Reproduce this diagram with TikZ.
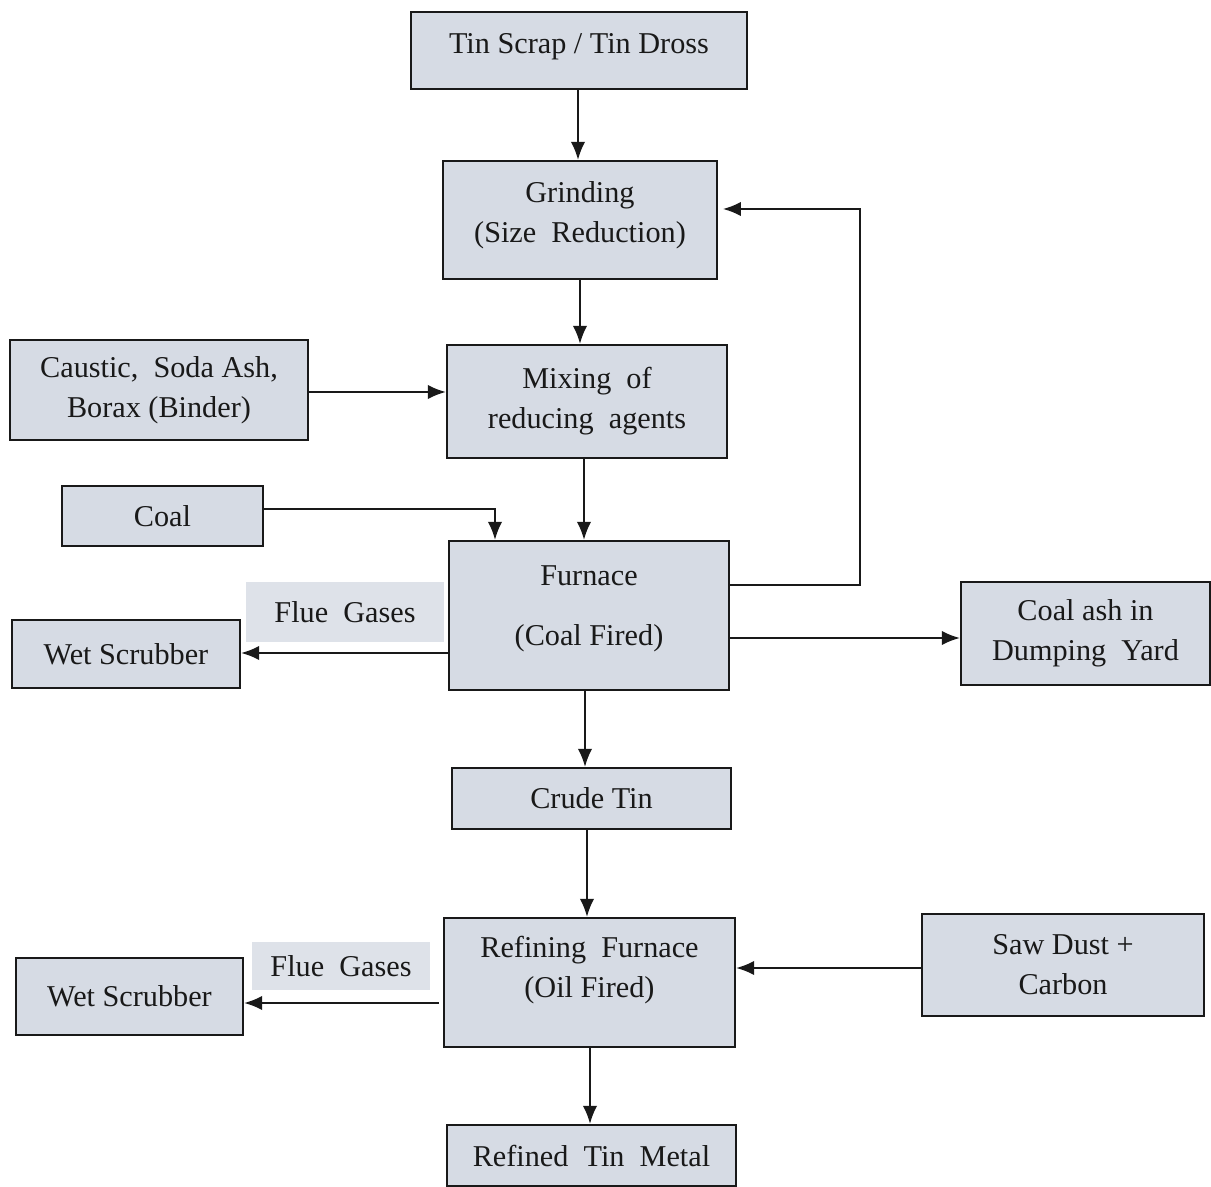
\documentclass[tikz,border=0pt]{standalone}
\usepackage{fontspec}
\setmainfont{Liberation Serif}
\usetikzlibrary{arrows.meta}
\definecolor{boxfill}{RGB}{214,219,228}
\definecolor{lblfill}{RGB}{222,226,233}
\definecolor{ink}{RGB}{25,25,25}
\tikzset{
  box/.style={draw=ink, fill=boxfill, line width=1.5pt, align=center, inner sep=0pt,
    font=\fontsize{21.5}{28.5}\selectfont, text=ink},
  lbl/.style={fill=lblfill, align=center, inner sep=0pt, font=\fontsize{21.5}{28.5}\selectfont, text=ink},
  arr/.style={draw=ink, line width=1.5pt, -{Latex[length=0.45cm,width=0.36cm]}}
}
\begin{document}
\begin{tikzpicture}[x=0.025cm,y=-0.025cm]
\useasboundingbox (0,0) rectangle (1211,1187);
\node[box, minimum width=8.4cm, minimum height=1.925cm] (tin) at (579,50.5) {Tin Scrap / Tin Dross\\[-0.65cm]};
\node[box, minimum width=6.85cm, minimum height=2.95cm] (grind) at (580,220) {Grinding\\(Size~ Reduction)\\[-0.6cm]};
\node[box, minimum width=7.0cm, minimum height=2.825cm] (mix) at (587,401.5) {Mixing~ of\\reducing~ agents};
\node[box, minimum width=7.45cm, minimum height=2.5cm] (caustic) at (159,390) {Caustic,~ Soda Ash,\\Borax (Binder)};
\node[box, minimum width=5.025cm, minimum height=1.5cm] (coal) at (162.5,516) {Coal};
\node[box, minimum width=7.0cm, minimum height=3.725cm] (furn) at (589,615.5) {Furnace\\[0.5cm](Coal Fired)\\[-0.5cm]};
\node[lbl, minimum width=4.95cm, minimum height=1.5cm] (flue1) at (345,612) {Flue~ Gases};
\node[box, minimum width=5.7cm, minimum height=1.7cm] (ws1) at (126,654) {Wet Scrubber};
\node[box, minimum width=6.225cm, minimum height=2.575cm] (ash) at (1085.5,633.5) {Coal ash in\\Dumping~ Yard};
\node[box, minimum width=6.975cm, minimum height=1.525cm] (crude) at (591.5,798.5) {Crude Tin};
\node[box, minimum width=7.275cm, minimum height=3.225cm] (refine) at (589.5,982.5) {Refining~ Furnace\\(Oil Fired)\\[-0.2cm]};
\node[box, minimum width=7.05cm, minimum height=2.55cm] (saw) at (1063,965) {Saw Dust +\\Carbon};
\node[lbl, minimum width=4.45cm, minimum height=1.2cm] (flue2) at (341,966) {Flue~ Gases};
\node[box, minimum width=5.675cm, minimum height=1.925cm] (ws2) at (129.5,996.5) {Wet Scrubber};
\node[box, minimum width=7.225cm, minimum height=1.525cm] (refined) at (591.5,1155.5) {Refined~ Tin~ Metal};

\coordinate (c1) at (495,509);
\coordinate (fb1) at (860,585);
\coordinate (fb2) at (860,209);

\draw[arr] (tin.south -| 578,0) -- (grind.north -| 578,0);
\draw[arr] (grind.south -| 580,0) -- (mix.north -| 580,0);
\draw[arr] (caustic.east |- 0,392) -- (mix.west |- 0,392);
\draw[arr] (mix.south -| 584,0) -- (furn.north -| 584,0);
\draw[arr] (coal.east |- c1) -- (c1) -- (furn.north -| c1);
\draw[arr] (furn.east |- fb1) -- (fb1) -- (fb2) -- ([xshift=0.12cm]grind.east |- fb2);
\draw[arr] (furn.west |- 0,653) -- (ws1.east |- 0,653);
\draw[arr] (furn.east |- 0,638) -- (ash.west |- 0,638);
\draw[arr] (furn.south -| 585,0) -- (crude.north -| 585,0);
\draw[arr] (crude.south -| 587,0) -- (refine.north -| 587,0);
\draw[arr] (saw.west |- 0,968) -- (refine.east |- 0,968);
\draw[arr] ([xshift=-0.1cm]refine.west |- 0,1003) -- (ws2.east |- 0,1003);
\draw[arr] (refine.south -| 590,0) -- (refined.north -| 590,0);
\end{tikzpicture}
\end{document}
